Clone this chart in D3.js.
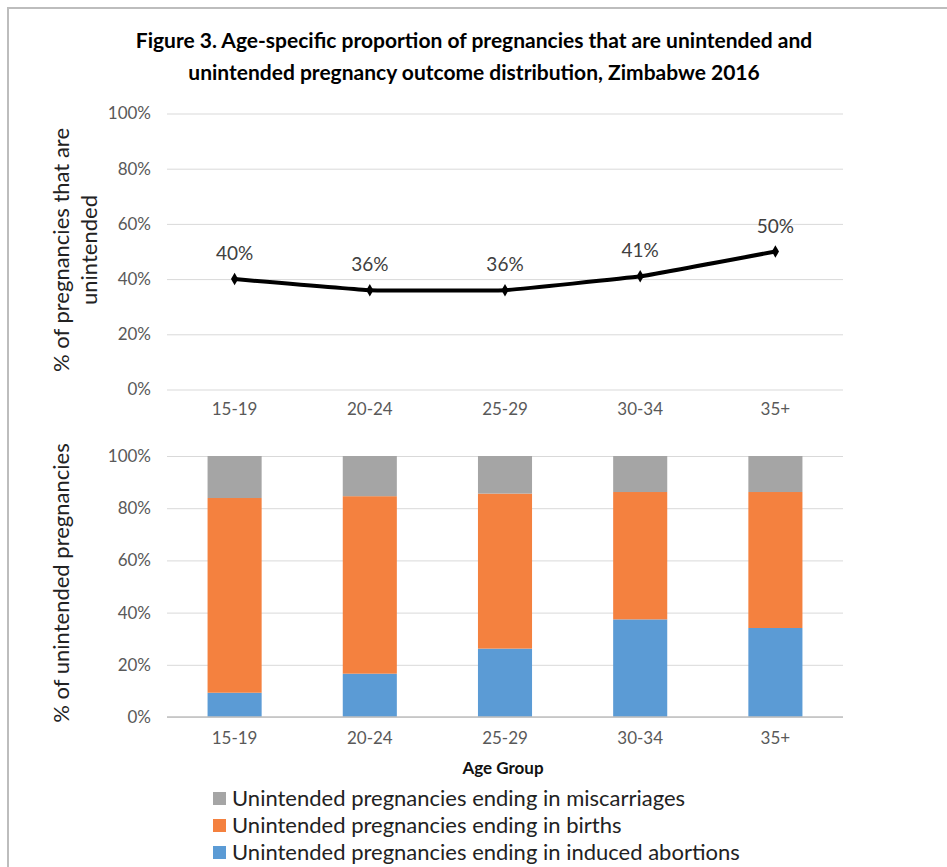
<!DOCTYPE html>
<html>
<head>
<meta charset="utf-8">
<script src="https://cdn.jsdelivr.net/npm/d3@7"></script>
<style>
  html, body { margin: 0; padding: 0; background: #fff; }
  svg { display: block; font-family: Lato, "Open Sans", sans-serif; }
</style>
</head>
<body>
<svg id="chart" width="947" height="867"></svg>
<script>
// Age groups
const ageGroups = ["15-19", "20-24", "25-29", "30-34", "35+"];
// Share of pregnancies that are unintended (%)
const unintendedShare = [40, 36, 36, 41, 50];
// Outcome distribution of unintended pregnancies (%)
const abortions = [9.3, 16.6, 26.2, 37.4, 34.1];
const births = [74.6, 68.0, 59.4, 48.8, 52.1];
const miscarriages = [16.1, 15.4, 14.4, 13.8, 13.8];
// Tick values
const yTicks = [0, 20, 40, 60, 80, 100];

const seriesNames = [
  "Unintended pregnancies ending in miscarriages",
  "Unintended pregnancies ending in births",
  "Unintended pregnancies ending in induced abortions"
];
const colors = { abortions: "#5B9BD5", births: "#F4813F", miscarriages: "#A5A5A5" };

const svg = d3.select("#chart");

// frame
svg.append("path")
  .attr("d", "M8,867 L8,8 L947,8")
  .attr("fill", "none").attr("stroke", "#bdbdbd").attr("stroke-width", 2);

// title
const title = svg.append("text").attr("text-anchor", "middle")
  .attr("font-weight", "bold").attr("font-size", 21).attr("fill", "#000");
title.append("tspan").attr("x", 474).attr("y", 48)
  .text("Figure 3. Age-specific proportion of pregnancies that are unintended and");
title.append("tspan").attr("x", 474).attr("y", 80)
  .text("unintended pregnancy outcome distribution, Zimbabwe 2016");

const left = 167, right = 843;
const x = d3.scaleBand().domain(ageGroups).range([left, right]).paddingInner(0.6).paddingOuter(0.3);
const xc = d => x(d) + x.bandwidth() / 2;

function drawYAxis(g, y) {
  const ax = d3.axisLeft(y).tickValues(yTicks).tickFormat(d => d + "%")
    .tickSize(-(right - left)).tickPadding(16);
  g.attr("transform", `translate(${left},0)`).call(ax);
  g.select(".domain").remove();
  g.selectAll(".tick line").attr("stroke", "#d9d9d9").attr("stroke-width", 1);
  g.selectAll(".tick text").attr("font-size", 17).attr("fill", "#595959")
    .attr("font-family", "Lato, sans-serif");
}
function drawXLabels(g, yPos) {
  const ax = d3.axisBottom(x).tickSize(0).tickPadding(0);
  g.attr("transform", `translate(0,${yPos})`).call(ax);
  g.select(".domain").remove();
  g.selectAll(".tick text").attr("font-size", 17).attr("fill", "#595959")
    .attr("font-family", "Lato, sans-serif");
}

// ---- top panel: line
const yTop = d3.scaleLinear().domain([0, 100]).range([389.5, 113.5]);
drawYAxis(svg.append("g"), yTop);
drawXLabels(svg.append("g"), 403);

const lineGen = d3.line().x((d, i) => xc(ageGroups[i])).y(d => yTop(d)).curve(d3.curveCardinal.tension(0.75));
svg.append("path").datum(unintendedShare).attr("d", lineGen)
  .attr("fill", "none").attr("stroke", "#000").attr("stroke-width", 4).attr("stroke-linejoin", "round");
svg.append("g").selectAll("path").data(unintendedShare).join("path")
  .attr("d", d3.symbol(d3.symbolDiamond, 45))
  .attr("transform", (d, i) => `translate(${xc(ageGroups[i])},${yTop(d)})`)
  .attr("fill", "#000");
svg.append("g").selectAll("text").data(unintendedShare).join("text")
  .attr("x", (d, i) => xc(ageGroups[i])).attr("y", d => yTop(d) - 19)
  .attr("text-anchor", "middle").attr("font-size", 19).attr("fill", "#404040")
  .text(d => d + "%");

svg.append("text").attr("transform", "translate(69,250) rotate(-90)")
  .attr("text-anchor", "middle").attr("font-size", 22).attr("fill", "#222")
  .text("% of pregnancies that are");
svg.append("text").attr("transform", "translate(97,250) rotate(-90)")
  .attr("text-anchor", "middle").attr("font-size", 22).attr("fill", "#222")
  .text("unintended");

// ---- bottom panel: stacked bars
const yBot = d3.scaleLinear().domain([0, 100]).range([717, 456]);
drawYAxis(svg.append("g"), yBot);
drawXLabels(svg.append("g"), 732);

const rows = ageGroups.map((a, i) => ({ age: a, abortions: abortions[i], births: births[i], miscarriages: miscarriages[i] }));
const stacked = d3.stack().keys(["abortions", "births", "miscarriages"])(rows);
svg.append("g").selectAll("g").data(stacked).join("g")
  .attr("fill", s => colors[s.key])
  .selectAll("rect").data(s => s).join("rect")
  .attr("x", d => x(d.data.age)).attr("width", x.bandwidth())
  .attr("y", d => yBot(d[1])).attr("height", d => yBot(d[0]) - yBot(d[1]));

svg.append("line").attr("x1", left).attr("x2", right).attr("y1", yBot(0)).attr("y2", yBot(0))
  .attr("stroke", "#bfbfbf").attr("stroke-width", 1.5);

svg.append("text").attr("transform", "translate(69,583) rotate(-90)")
  .attr("text-anchor", "middle").attr("font-size", 22).attr("fill", "#222")
  .text("% of unintended pregnancies");

svg.append("text").attr("x", 503).attr("y", 774).attr("text-anchor", "middle")
  .attr("font-size", 17).attr("font-weight", "bold").attr("fill", "#111").text("Age Group");

// legend
const legendKeys = ["miscarriages", "births", "abortions"];
const lg = svg.append("g").selectAll("g").data(legendKeys).join("g")
  .attr("transform", (d, i) => `translate(213,${799 + i * 27})`);
lg.append("rect").attr("x", 0).attr("y", -7).attr("width", 13).attr("height", 13)
  .attr("fill", d => colors[d]);
lg.append("text").attr("x", 19).attr("y", 7).attr("font-size", 22).attr("fill", "#222")
  .text((d, i) => seriesNames[i]);
</script>
</body>
</html>
